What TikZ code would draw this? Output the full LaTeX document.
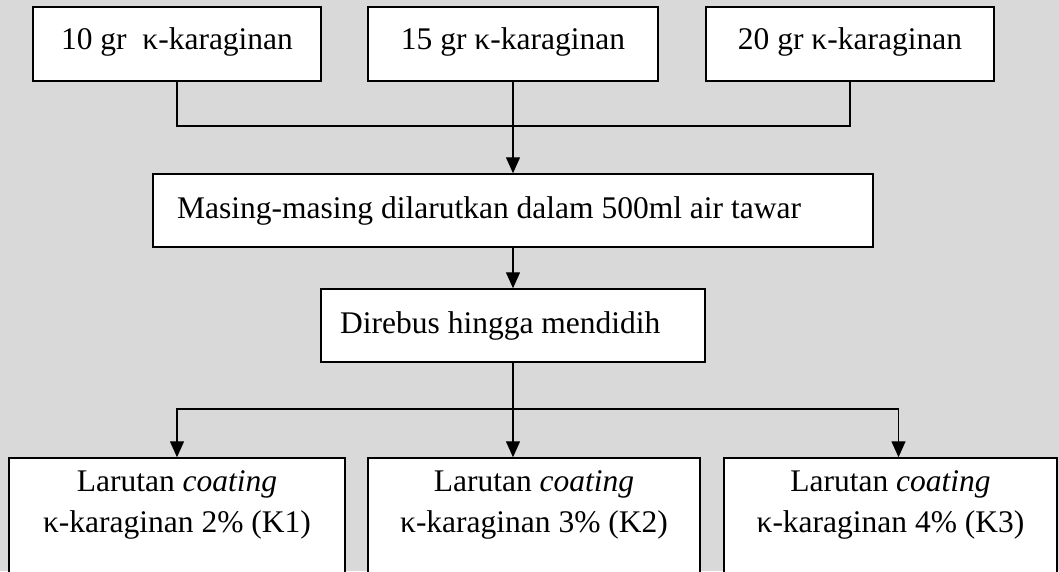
\documentclass[tikz,border=0pt]{standalone}
\usepackage{fontspec}
\setmainfont{Liberation Serif}
\usetikzlibrary{arrows.meta}
\definecolor{bggray}{RGB}{217,217,217}
\begin{document}
\begin{tikzpicture}[x=1pt,y=-1pt,
  box/.style={draw=black, fill=white, line width=1.5pt, inner sep=0pt},
  lbl/.style={font=\fontsize{31.5}{41}\selectfont, inner sep=0pt},
  conn/.style={line width=1.4pt},
  arr/.style={conn, -{Triangle[length=16pt,width=14pt]}}]
\fill[bggray] (0,0) rectangle (1059,571);
\useasboundingbox (0,0) rectangle (1059,571);
\clip (0,0) rectangle (1059,571);

% top row
\node[box, minimum width=288pt, minimum height=74pt] (t1) at (177,44) {};
\node[box, minimum width=290pt, minimum height=74pt] (t2) at (513,44) {};
\node[box, minimum width=288pt, minimum height=74pt] (t3) at (850,44) {};
\node[lbl, anchor=base] (t1l) at (177,49) {10 gr\ \ κ-karaginan};
\node[lbl, anchor=base] (t2l) at (513,49) {15 gr κ-karaginan};
\node[lbl, anchor=base] (t3l) at (850,49) {20 gr κ-karaginan};

% middle
\node[box, minimum width=720pt, minimum height=73pt] (m) at (513,210.5) {};
\node[lbl, anchor=base west] (ml) at (177,218) {Masing-masing dilarutkan dalam 500ml air tawar};
\node[box, minimum width=384pt, minimum height=73pt] (d) at (513,325.5) {};
\node[lbl, anchor=base west] (dl) at (340,333) {Direbus hingga mendidih};

% bottom row
\node[box, minimum width=336pt, minimum height=162pt] (b1) at (177,539) {};
\node[box, minimum width=332pt, minimum height=162pt] (b2) at (534,539) {};
\node[box, minimum width=333pt, minimum height=162pt] (b3) at (890.5,539) {};
\node[lbl, anchor=base] (b1a) at (177,491) {Larutan \textit{coating}};
\node[lbl, anchor=base] (b1b) at (177,532) {κ-karaginan 2\% (K1)};
\node[lbl, anchor=base] (b2a) at (534,491) {Larutan \textit{coating}};
\node[lbl, anchor=base] (b2b) at (534,532) {κ-karaginan 3\% (K2)};
\node[lbl, anchor=base] (b3a) at (890.5,491) {Larutan \textit{coating}};
\node[lbl, anchor=base] (b3b) at (890.5,532) {κ-karaginan 4\% (K3)};

% connectors
\coordinate (j1) at (513,126);
\coordinate (j2) at (513,409);
\draw[conn] (t1.south) |- (j1) -| (t3.south);
\draw[arr] (t2.south) -- (m.north);
\draw[arr] (m.south) -- (d.north);
\draw[conn] (d.south) -- (j2);
\draw[arr] (j2) -- (j2 |- b2.north);
\draw[arr] (j2) -| (b1.north);
\draw[arr] (j2) -| ([xshift=8pt]b3.north);
\end{tikzpicture}
\end{document}
